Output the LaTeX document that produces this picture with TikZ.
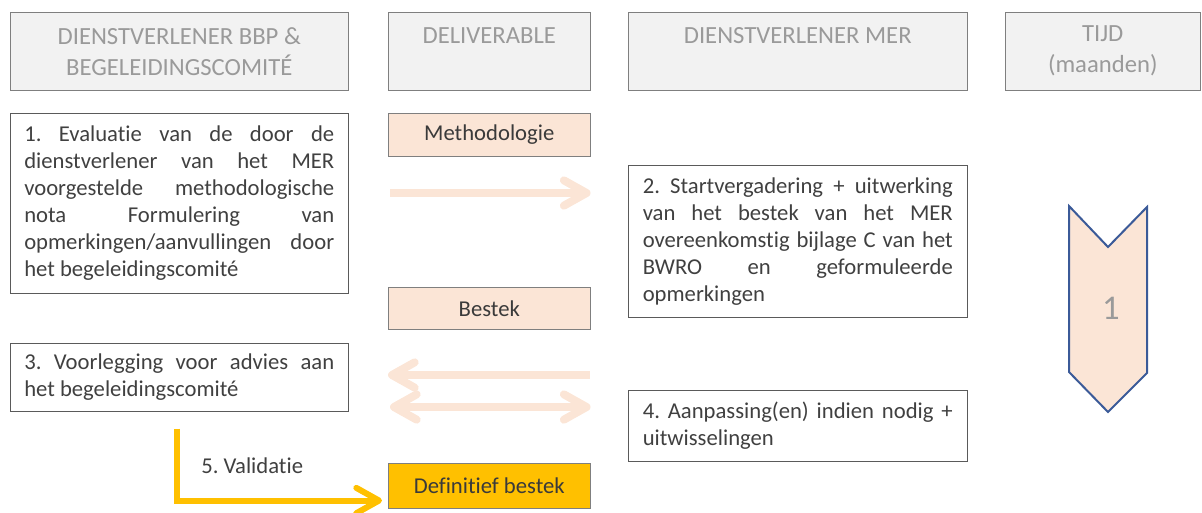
\documentclass[tikz,border=0pt]{standalone}
\usepackage{fontspec}
\setmainfont{Carlito}[Ligatures={NoCommon}]
\usetikzlibrary{arrows.meta,calc}
\frenchspacing

\definecolor{perzik}{HTML}{FBE5D6}
\definecolor{goud}{HTML}{FFC000}
\definecolor{blauw}{HTML}{3B5A98}
\definecolor{kopvlak}{HTML}{F2F2F2}
\definecolor{kopletter}{HTML}{9A9A9A}
\definecolor{rand}{HTML}{7F7F7F}
\definecolor{staprand}{HTML}{5A5A5A}
\definecolor{tekst}{HTML}{404040}

\begin{document}
\begin{tikzpicture}[x=0.75pt, y=-0.75pt,
  kop/.style={draw=rand, fill=kopvlak, text=kopletter, anchor=north west,
    align=center, inner sep=0pt, minimum height=78*0.75pt,
    font=\fontsize{18.5}{23.25}\selectfont},
  stap/.style={draw=staprand, text=tekst, anchor=north west, align=justify,
    text width=310*0.75pt, inner sep=0pt, font=\fontsize{17}{20.25}\selectfont},
  product/.style={draw=rand, fill=perzik, text=tekst!90!black, anchor=north west,
    inner sep=0pt, minimum width=202*0.75pt, font=\fontsize{17}{20}\selectfont},
  pijl/.style={perzik, line width=6pt},
  punt/.tip={Straight Barb[round, length=17pt, width=19pt]},
]
\useasboundingbox (0,0) rectangle (1202,512);

\def \kopy {12}

% kolomkoppen
\foreach \x/\w/\naam/\titel in {10/338/kopa/{DIENSTVERLENER BBP \&\\BEGELEIDINGSCOMITÉ},
  388/202/kopb/{DELIVERABLE\\~}, 628/339/kopc/{DIENSTVERLENER MER\\~},
  1005/195/kopd/{TIJD\\(maanden)}}
{
  \node[kop, minimum width=\w*0.75pt] (\naam) at (\x,\kopy) {\titel};
}

% stappen
\node[stap, minimum width=338*0.75pt, minimum height=180*0.75pt] (stapa) at (10,113)
  {1. Evaluatie van de door de\linebreak dienstverlener van het MER\linebreak
   voorgestelde methodologische\linebreak nota Formulering van\linebreak
   opmerkingen/aanvullingen door\linebreak het begeleidingscomité};
\node[stap, minimum width=339*0.75pt, minimum height=152*0.75pt] (stapb) at (628,165)
  {2. Startvergadering + uitwerking\linebreak van het bestek van het MER\linebreak
   overeenkomstig bijlage C van het\linebreak BWRO en geformuleerde\linebreak
   opmerkingen};
\node[stap, minimum width=338*0.75pt, minimum height=68*0.75pt] (stapc) at (10,343)
  {3. Voorlegging voor advies aan\linebreak het begeleidingscomité};
\node[stap, minimum width=339*0.75pt, minimum height=71*0.75pt] (stapd) at (628,390)
  {4. Aanpassing(en) indien nodig +\linebreak uitwisselingen};

% deliverables
\node[product, minimum height=43*0.75pt] (methode) at (388,113) {Methodologie};
\node[product, minimum height=42*0.75pt] (bestek) at (388,287) {Bestek};
\node[product, fill=goud, minimum height=45*0.75pt] (definitief) at (388,463) {Definitief bestek};

% pijlen tussen de kolommen
\coordinate (heen) at (390,193);
\coordinate (terug) at (590,375);
\coordinate (over) at (390,407);
\draw[pijl, -punt] (heen) -- (heen -| methode.east);
\draw[pijl, punt-] (terug -| methode.west) -- (terug);
\draw[pijl, punt-punt] (over) -- (over -| methode.east);

% validatie
\coordinate (valbegin) at ($(stapc.south)+(-2,17)$);
\coordinate (valeind) at ($(definitief.south west)+(-6,-8)$);
\draw[goud, line width=4.5pt, -punt] (valbegin) |- (valeind);
\node[anchor=west, text=tekst, inner sep=0pt, font=\fontsize{17}{20.25}\selectfont]
  (validatie) at (201,466) {5. Validatie};

% tijdspijl
\draw[blauw, fill=perzik, line width=1.5pt, line join=miter]
  (1069,206) -- (1108,247) -- (1147,207) -- (1147,373) -- (1108,412) -- (1069,372) -- cycle;
\node[text=kopletter, font=\fontsize{26}{30}\selectfont] (maand) at (1111,308) {1};
\end{tikzpicture}
\end{document}
